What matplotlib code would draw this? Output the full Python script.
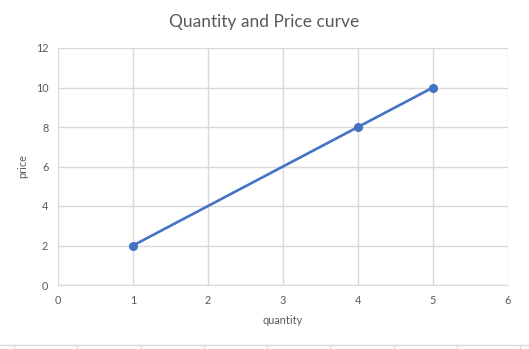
import matplotlib
matplotlib.use("Agg")
import matplotlib.pyplot as plt
from matplotlib.lines import Line2D

quantity = [1, 4, 5]
price = [2, 8, 10]
x_ticks = [0, 1, 2, 3, 4, 5, 6]
y_ticks = [0, 2, 4, 6, 8, 10, 12]

plt.rcParams['font.family'] = ['Lato', 'DejaVu Sans']

W, H = 529, 349
fig = plt.figure(figsize=(W / 100, H / 100), dpi=100)
ax = fig.add_axes([58 / W, 1 - 285 / H, 450 / W, 237 / H])

ax.plot(quantity, price, color='#4472C4', linewidth=1.9, marker='o', markersize=5.5,
        zorder=3, solid_capstyle='round')
ax.set_xlim(0, 6)
ax.set_ylim(0, 12)
ax.set_xticks(x_ticks)
ax.set_yticks(y_ticks)
ax.grid(True, color='#d9d9d9', linewidth=1)
ax.set_axisbelow(True)
for s in ['top', 'right', 'left']:
    ax.spines[s].set_visible(False)
ax.spines['bottom'].set_color('#d9d9d9')
ax.tick_params(length=0, labelsize=7.8, colors='#595959', pad=7)
ax.set_xlabel('quantity', fontsize=7.8, color='#595959', labelpad=7)
ax.set_ylabel('price', fontsize=7.8, color='#595959', labelpad=5)

fig.text(0.5, 1 - 22 / H, 'Quantity and Price curve', ha='center', va='center',
         fontsize=12.5, color='#595959')

# spreadsheet cell grid at the bottom
fig.add_artist(Line2D([0, 1], [1 - 345 / H, 1 - 345 / H], color='#d9d9d9', linewidth=1))
for px in [14, 77, 141, 204, 267, 330, 394, 457, 520]:
    fig.add_artist(Line2D([px / W, px / W], [0, 1 - 345 / H], color='#d9d9d9', linewidth=1))

fig.savefig('out.png', dpi=100)
